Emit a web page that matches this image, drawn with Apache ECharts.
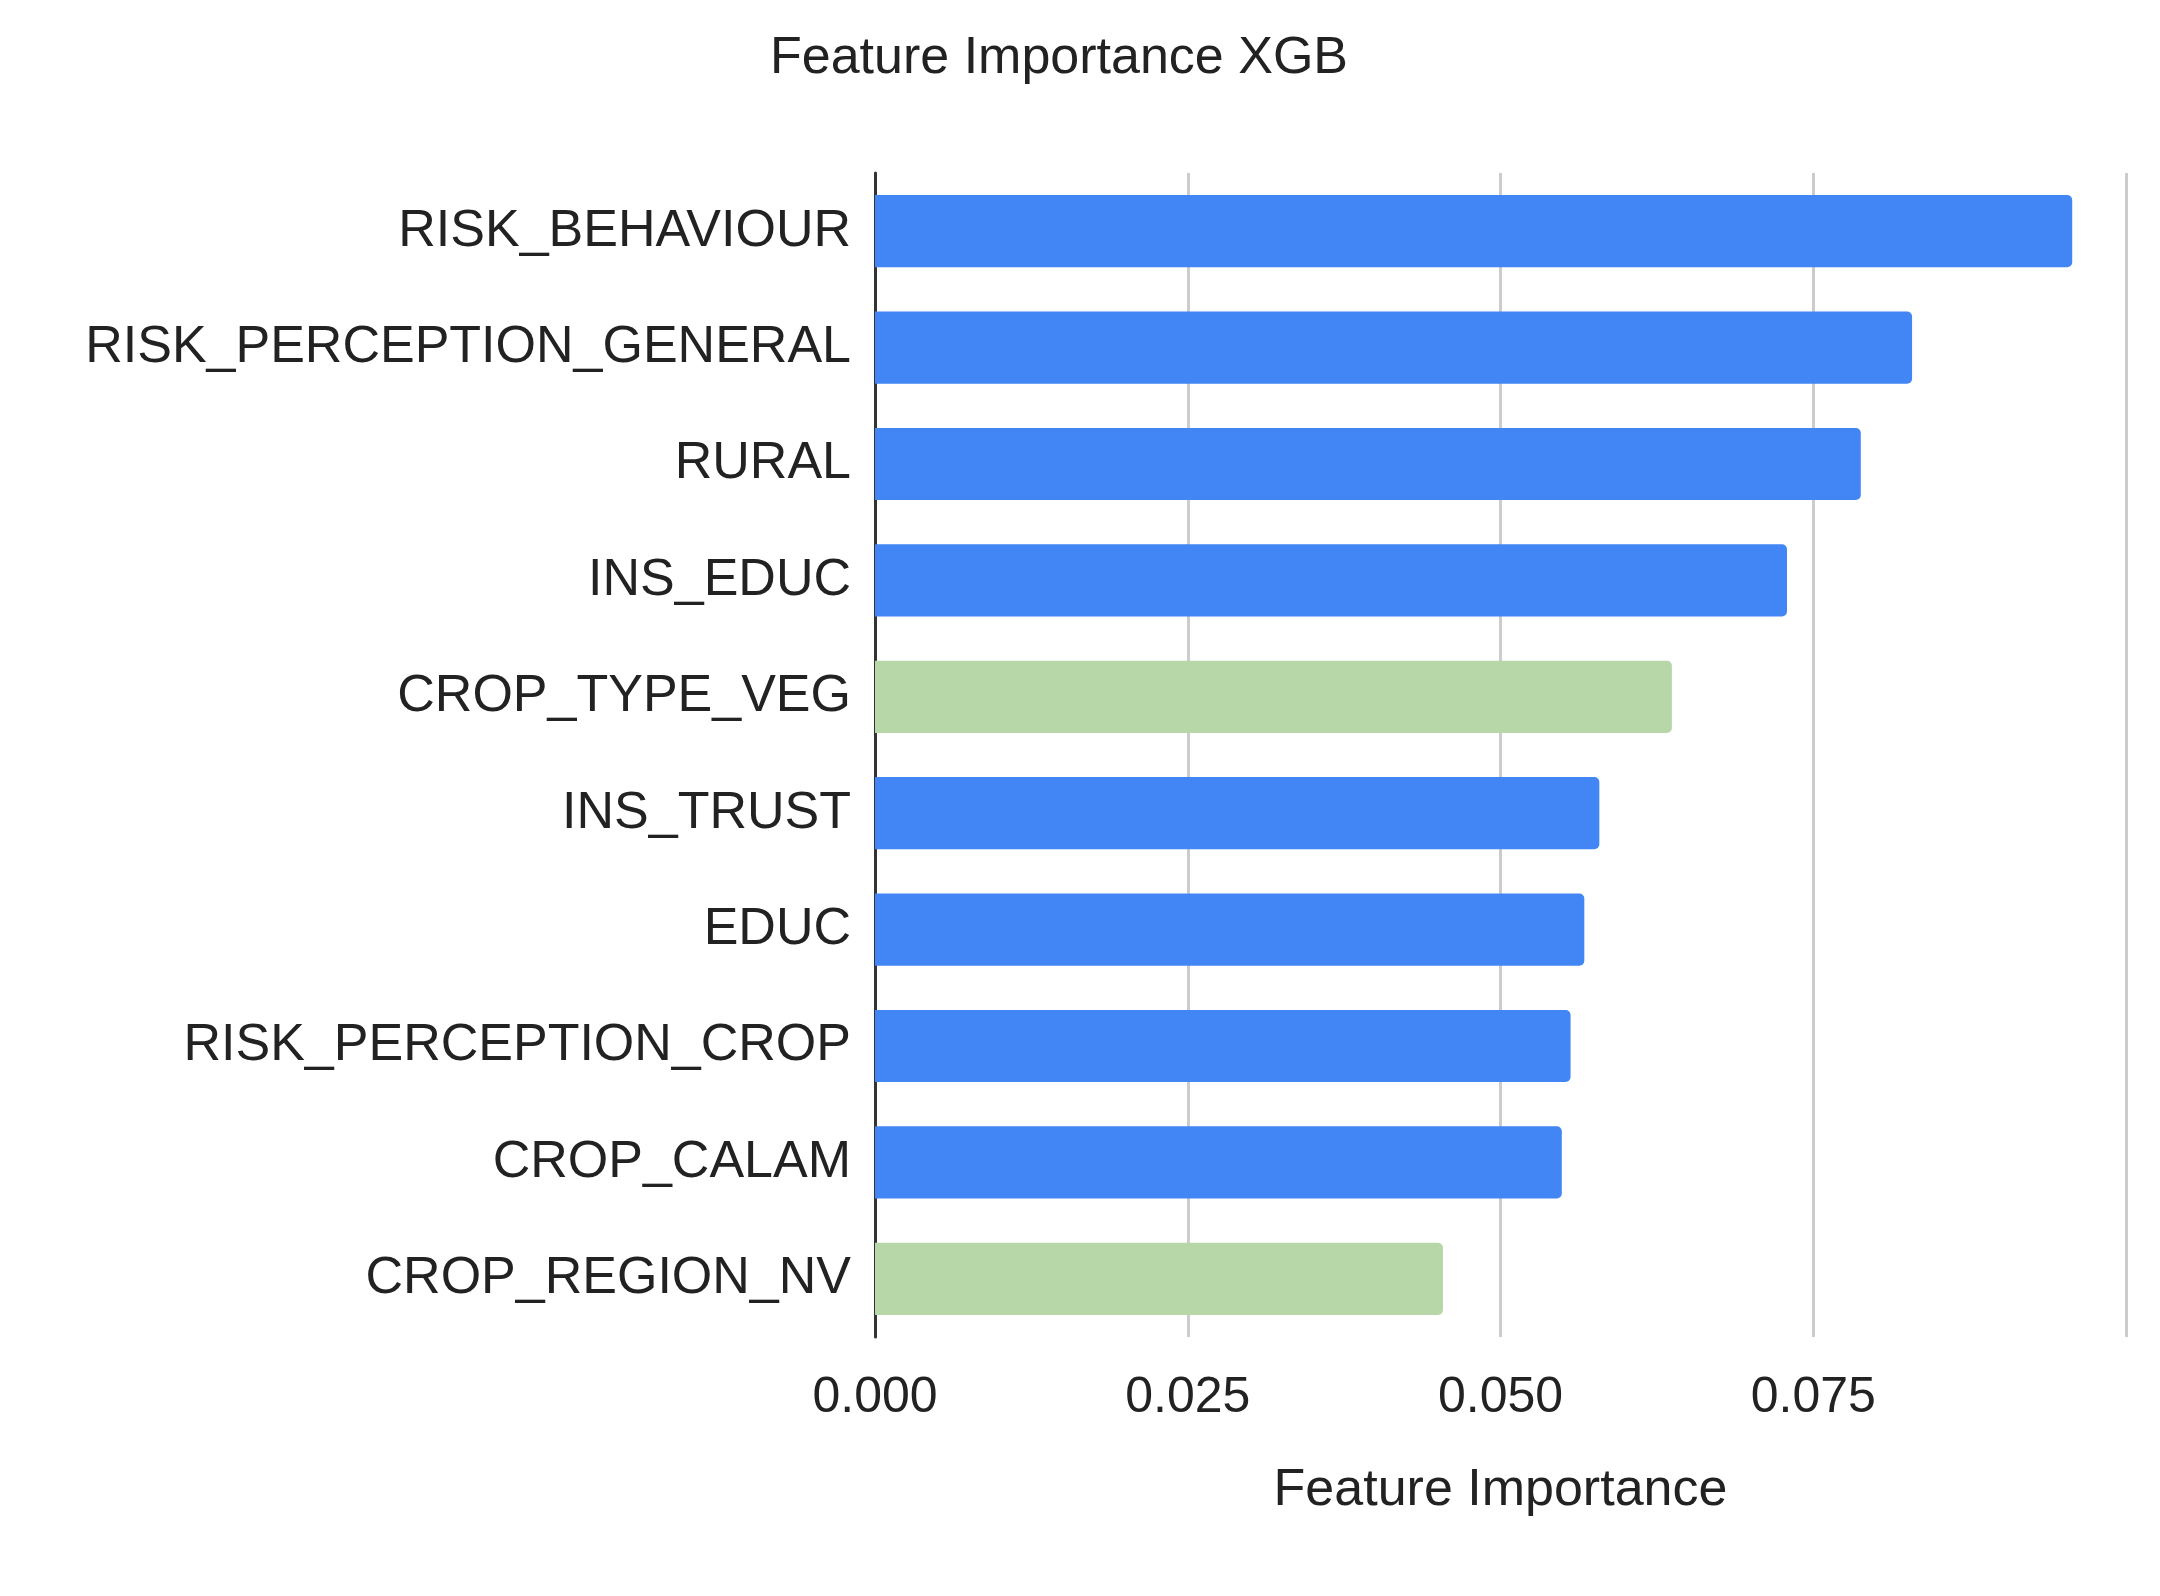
<!DOCTYPE html>
<html>
<head>
<meta charset="utf-8">
<script src="https://cdn.jsdelivr.net/npm/echarts@6/dist/echarts.min.js"></script>
<style>html,body{margin:0;background:#fff}#chart{width:2160px;height:1596px}</style>
</head>
<body>
<div id="chart"></div>
<script>
var features = ['RISK_BEHAVIOUR','RISK_PERCEPTION_GENERAL','RURAL','INS_EDUC','CROP_TYPE_VEG','INS_TRUST','EDUC','RISK_PERCEPTION_CROP','CROP_CALAM','CROP_REGION_NV'];
var importance = [0.0957,0.0829,0.0788,0.0729,0.0637,0.0579,0.0567,0.0556,0.0549,0.0454];
var highlighted = ['CROP_TYPE_VEG','CROP_REGION_NV'];
var xTicks = [0, 0.025, 0.05, 0.075, 0.1];

var blue = '#4285F4', green = '#B7D7A8';
var font = 'Liberation Sans, Arial, sans-serif';

var myChart = echarts.init(document.getElementById('chart'));
myChart.setOption({
	animation:false,
	title:{
		text:'Feature Importance XGB',
		left:1054, top:28, textAlign:'center',
		textStyle:{fontFamily:font, fontSize:52, fontWeight:'normal', color:'#222'}
	},
	grid:{left:875, right:34, top:173, bottom:259, containLabel:false},
	xAxis:{
		type:'value', min:0, max:0.1, interval:0.025,
		name:'Feature Importance', nameLocation:'middle', nameGap:128,
		nameTextStyle:{fontFamily:font, fontSize:52, color:'#222'},
		axisLine:{show:false}, axisTick:{show:false},
		splitLine:{lineStyle:{color:'#cccccc', width:3}},
		axisLabel:{
			fontFamily:font, fontSize:50, color:'#222', margin:36,
			formatter:function(v){ return xTicks.indexOf(v) >= 0 && v < 0.1 ? v.toFixed(3) : ''; }
		}
	},
	yAxis:{
		type:'category', inverse:true, data:features,
		axisLine:{show:true, lineStyle:{color:'#333', width:3}},
		axisTick:{show:false},
		axisLabel:{fontFamily:font, fontSize:52, color:'#222', margin:24}
	},
	series:[{
		type:'bar',
		barCategoryGap:'38%',
		data:importance.map(function(v,i){
			return {value:v, itemStyle:{color: highlighted.indexOf(features[i]) >= 0 ? green : blue, borderRadius:[0,5,5,0]}};
		})
	}]
});
</script>
</body>
</html>
